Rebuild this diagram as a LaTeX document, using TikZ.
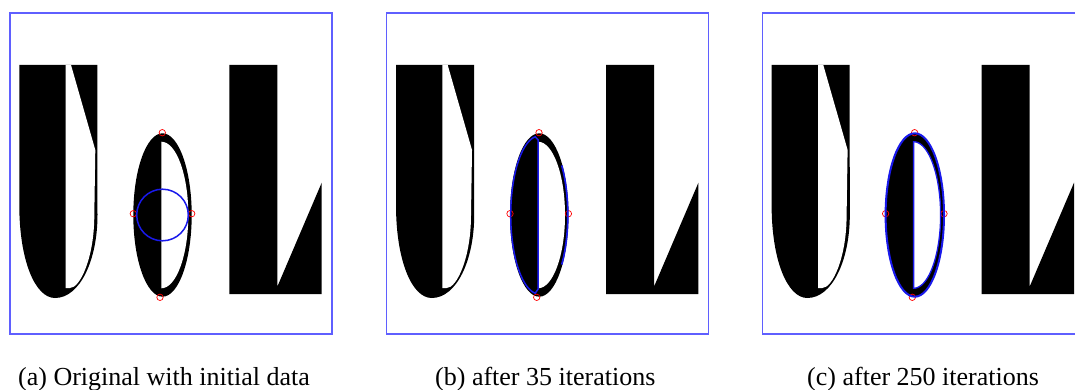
\documentclass[tikz,border=0pt]{standalone}
\usepackage{fontspec}
\setmainfont{Liberation Serif}
\definecolor{framecol}{RGB}{95,95,255}
\definecolor{cblue}{RGB}{25,25,235}
\tikzset{
  framebox/.style={draw=framecol, line width=1.1pt},
  inkfill/.style={fill=black},
  paperfill/.style={fill=white},
  marker/.style={circle, draw=red, line width=0.7pt, minimum size=6.4pt, inner sep=0pt},
  contour/.style={draw=cblue, line width=1.5pt},
  caption/.style={anchor=base west, inner sep=0pt, font=\fontsize{26}{30}\selectfont},
}
\newcommand\panelbase[1]{%
  % letter U
  \fill[inkfill] (19.3,65) -- (97.3,65) -- (97.5,215)
     .. controls (97.5,260) and (80,298) .. (55,298)
     .. controls (35,298) and (19.3,260) .. (19.3,205) -- cycle;
  \fill[paperfill] (65.7,65) -- (71,65) -- (95.3,150) -- (94.3,215)
     .. controls (94.3,258) and (80,288) .. (70,288) -- (65.7,288) -- cycle;
  % letter o
  \fill[inkfill] (162.5,215) ellipse [x radius=29.2pt, y radius=81.7pt];
  \begin{scope}
    \clip (161.3,100) rectangle (200,320);
    \fill[paperfill] (161.3,215) ellipse [x radius=27pt, y radius=73.3pt];
  \end{scope}
  % letter L
  \fill[inkfill] (229.3,65) -- (277.3,65) -- (277.3,286.7) -- (321.7,182.7)
     -- (321.7,294) -- (229.3,294) -- cycle;
  % frame
  \draw[framebox] (10,13) rectangle (332,334);
  % initial data points
  \node[marker] (#1m1) at (162.3,132.7) {};
  \node[marker] (#1m2) at (133.3,213.7) {};
  \node[marker] (#1m3) at (191.7,213.7) {};
  \node[marker] (#1m4) at (160,297.3) {};
}
\begin{document}
\begin{tikzpicture}[x=1pt, y=-1pt]
\useasboundingbox (0,0) rectangle (1075,390);
\clip (0,0) rectangle (1075,390);

% (a)
\begin{scope}
  \panelbase{a}
  \draw[contour] (162.5,215) circle [radius=25.8pt];
\end{scope}

% (b)
\begin{scope}[xshift=376.7pt]
  \panelbase{b}
  \draw[contour] plot[domain=262:98, samples=60] ({162.5+28.5*cos(\x)},{215+79*sin(\x)})
     -- (161.5,289) -- (161.5,140) -- cycle;
  \draw[contour, line width=1.7pt] plot[domain=-38:38, samples=40] ({162.5+28.6*cos(\x)},{215+80.5*sin(\x)});
\end{scope}

% (c)
\begin{scope}[xshift=752.3pt]
  \panelbase{c}
  \draw[contour, line width=2pt] (162.5,215) ellipse [x radius=29.2pt, y radius=81.7pt];
  \draw[contour, line width=1.3pt] plot[domain=-90:90, samples=60] ({161.3+27*cos(\x)},{215+73.3*sin(\x)}) -- cycle;
\end{scope}

% captions
\node[caption] (capa) at (18,385.5) {(a) Original with initial data};
\node[caption] (capb) at (435,385.5) {(b) after 35 iterations};
\node[caption] (capc) at (807,385.5) {(c) after 250 iterations};
\end{tikzpicture}
\end{document}
